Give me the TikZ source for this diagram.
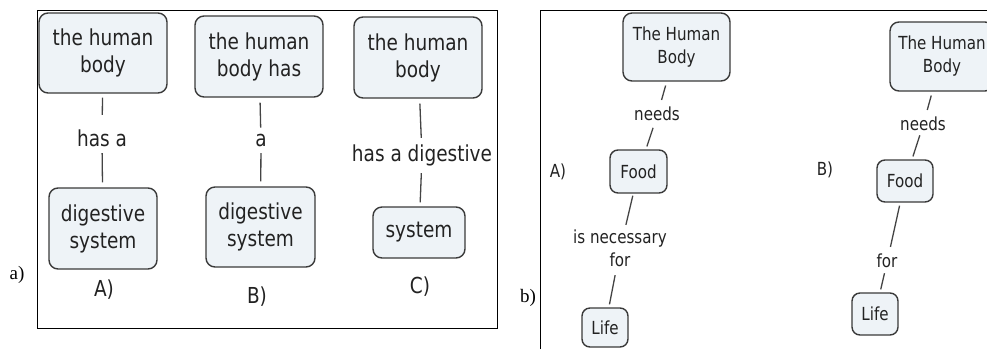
\documentclass[tikz,border=0pt]{standalone}
\usepackage{fontspec}
\newfontfamily\cmapfont{DejaVu Sans}[FakeStretch=0.84]
\newfontfamily\capfont{Liberation Serif}
\definecolor{boxfill}{HTML}{EEF3F7}
\definecolor{boxline}{HTML}{3A3A3A}
\definecolor{txt}{HTML}{222222}
\definecolor{conn}{HTML}{444444}
\tikzset{
  concept/.style={draw=boxline, fill=boxfill, line width=1.4pt, rounded corners=9pt,
    inner sep=0pt, align=center, text=txt},
  bigf/.style={font=\cmapfont\fontsize{22}{27}\selectfont},
  smallf/.style={font=\cmapfont\fontsize{18}{23}\selectfont},
  lbl/.style={inner sep=0pt, align=center, text=txt},
  link/.style={draw=conn, line width=1.3pt},
  panel/.style={draw=black, line width=1pt},
  capt/.style={font=\capfont\fontsize{19}{22}\selectfont, inner sep=0pt}
}
\begin{document}
\begin{tikzpicture}[x=1pt,y=-1pt]
\useasboundingbox (0,0) rectangle (987,349);
\clip (0,0) rectangle (987,349);

% ---------- panel a ----------
\draw[panel] (37,10) rectangle (497,328);
\node[capt] (capa) at (17,275) {a)};

\node[concept,bigf,minimum width=128pt,minimum height=80pt] (atop) at (103,53) {the human\\body};
\node[concept,bigf,minimum width=108pt,minimum height=81pt] (abot) at (103,228.5) {digestive\\system};
\node[lbl,bigf] (alab) at (102,141.3) {\strut has a};
\node[lbl,bigf] (aname) at (104,290) {A)};
\draw[link, shorten <=4pt, shorten >=12.8pt] (atop) -- (alab);
\draw[link, shorten <=-1.8pt, shorten >=5pt] (alab) -- (abot);

\node[concept,bigf,minimum width=128pt,minimum height=81pt] (btop) at (259,56.5) {the human\\body has};
\node[concept,bigf,minimum width=109pt,minimum height=80pt] (bbot) at (260.5,227) {digestive\\system};
\node[lbl,bigf] (blab) at (261,141.3) {\strut a};
\node[lbl,bigf] (bname) at (257,297) {B)};
\draw[link, shorten <=5pt, shorten >=0pt] (btop) -- (blab);
\draw[link, shorten <=-1.8pt, shorten >=5pt] (blab) -- (bbot);

\node[concept,bigf,minimum width=128pt,minimum height=81pt] (ctop) at (418,57.5) {the human\\body};
\node[concept,bigf,minimum width=92pt,minimum height=51pt] (cbot) at (419,232.5) {system};
\node[lbl,bigf] (clab) at (422,156.3) {\strut has a digestive};
\node[lbl,bigf] (cname) at (420,287) {C)};
\draw[link, shorten <=5pt, shorten >=4.8pt] (ctop) -- (clab);
\draw[link, shorten <=3.2pt, shorten >=4pt] (clab) -- (cbot);

% ---------- panel b ----------
\draw[panel] (540,349) -- (540,10) -- (990,10);
\node[capt] (capb) at (528,298) {b)};

\node[concept,smallf,minimum width=107pt,minimum height=68pt] (hba) at (676.5,47) {The Human\\Body};
\node[concept,smallf,minimum width=57pt,minimum height=43pt,rounded corners=8pt] (fooda) at (638.5,171.5) {Food};
\node[concept,smallf,minimum width=46pt,minimum height=39pt,rounded corners=8pt] (lifea) at (605,327.5) {Life};
\node[lbl,smallf] (needa) at (657,116.1) {\strut needs};
\node[lbl,smallf] (necfor) at (620,249.9) {\strut is necessary\\\strut for};
\node[lbl,smallf] (rnamea) at (558,172) {A)};
\draw[link, shorten <=4pt, shorten >=4.6pt] (hba) -- (needa);
\draw[link, shorten <=0pt, shorten >=3pt] (needa) -- (fooda);
\draw[link, shorten <=2pt, shorten >=1.9pt] (fooda) -- (necfor);
\draw[link, shorten <=2.1pt, shorten >=3pt] (necfor) -- (lifea);

\node[concept,smallf,minimum width=104pt,minimum height=69pt] (hbb) at (942,56.5) {The Human\\Body};
\node[concept,smallf,minimum width=56pt,minimum height=42pt,rounded corners=8pt] (foodb) at (905,181) {Food};
\node[concept,smallf,minimum width=46pt,minimum height=42pt,rounded corners=8pt] (lifeb) at (875,314) {Life};
\node[lbl,smallf] (needb) at (923,125.4) {\strut needs};
\node[lbl,smallf] (forb) at (887,262.4) {\strut for};
\node[lbl,smallf] (rnameb) at (825,170) {B)};
\draw[link, shorten <=4pt, shorten >=3.9pt] (hbb) -- (needb);
\draw[link, shorten <=-1.9pt, shorten >=3pt] (needb) -- (foodb);
\draw[link, shorten <=3pt, shorten >=3.9pt] (foodb) -- (forb);
\draw[link, shorten <=-0.9pt, shorten >=3pt] (forb) -- (lifeb);
\end{tikzpicture}
\end{document}
